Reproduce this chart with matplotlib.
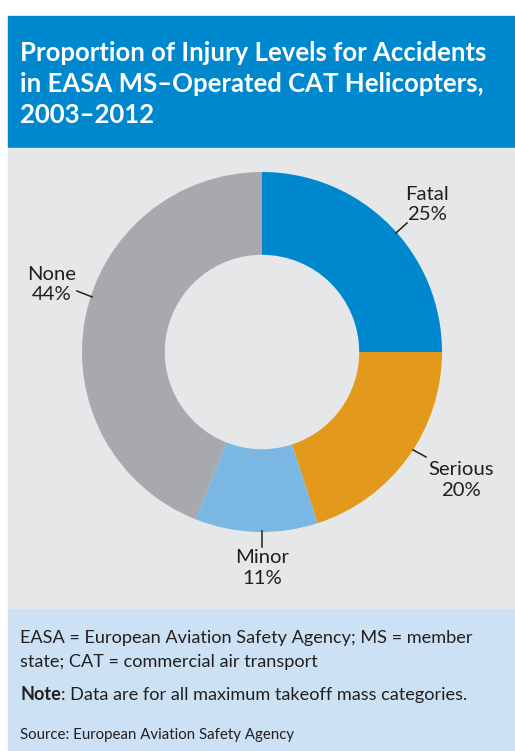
import matplotlib.pyplot as plt
from matplotlib.patches import Rectangle

# data
categories = ["Fatal", "Serious", "Minor", "None"]
shares = [25, 20, 11, 44]
colors = ["#0088ce", "#e3991b", "#7ab8e3", "#a7a9ac"]

W, H = 515, 751
plt.rcParams['font.family'] = ['Lato', 'DejaVu Sans']
TXT = "#231f20"

fig = plt.figure(figsize=(W / 100, H / 100), dpi=100)
fig.patch.set_facecolor("white")


def fx(px):
    return px / W


def fy(py):
    return 1 - py / H


# background bands (title, chart, footer)
for top, bottom, col in [(16, 148, "#0088ce"), (148, 609, "#e6e7e8"), (609, 751, "#cce2f4")]:
    fig.patches.append(Rectangle((fx(8), fy(bottom)), fx(W) - fx(8), fy(top) - fy(bottom),
                                 transform=fig.transFigure, color=col, zorder=-5))

title_lines = ["Proportion of Injury Levels for Accidents",
               "in EASA MS\u2013Operated CAT Helicopters,",
               "2003\u20132012"]
for line, base in zip(title_lines, [61, 92, 123]):
    fig.text(fx(20), fy(base), line, color="white", fontsize=18.5, fontweight="bold",
             va="baseline", ha="left")

# donut
cx, cy, r = 262, 352, 180
ax = fig.add_axes([fx(cx - r), fy(cy + r), 2 * r / W, 2 * r / H])
ax.pie(shares, colors=colors, startangle=90, counterclock=False, radius=1,
       wedgeprops=dict(width=0.46, linewidth=0))
ax.set_xlim(-1, 1)
ax.set_ylim(-1, 1)
ax.set_aspect("equal")
ax.axis("off")

# label layout: (text x, text y, line start, line end) in pie units
label_pos = {
    "Fatal": ((0.917, 0.822), (0.744, 0.661), (0.806, 0.717)),
    "Serious": ((1.106, -0.711), (0.839, -0.544), (0.911, -0.583)),
    "Minor": ((0.0, -1.2), (0.0, -0.994), (0.0, -1.083)),
    "None": ((-1.17, 0.375), (-0.944, 0.306), (-1.028, 0.339)),
}
for name, val in zip(categories, shares):
    (tx, ty), p0, p1 = label_pos[name]
    ax.plot([p0[0], p1[0]], [p0[1], p1[1]], color=TXT, lw=1.1, clip_on=False)
    ax.text(tx, ty, f"{name}\n{val}%", ha="center", va="center", fontsize=14.6,
            color=TXT, linespacing=1.22, clip_on=False)

# footer
fig.text(fx(20), fy(643), "EASA = European Aviation Safety Agency; MS = member",
         fontsize=13.1, color=TXT, va="baseline")
fig.text(fx(20), fy(667), "state; CAT = commercial air transport",
         fontsize=13.1, color=TXT, va="baseline")
note = fig.text(fx(20), fy(700), "Note", fontsize=13.1, color=TXT, va="baseline", fontweight="bold")
fig.canvas.draw()
nb = note.get_window_extent()
fig.text(nb.x1 / W, fy(700), ": Data are for all maximum takeoff mass categories.",
         fontsize=13.1, color=TXT, va="baseline")
fig.text(fx(20), fy(739), "Source: European Aviation Safety Agency",
         fontsize=10.8, color=TXT, va="baseline")

fig.savefig("out.png", dpi=100)
